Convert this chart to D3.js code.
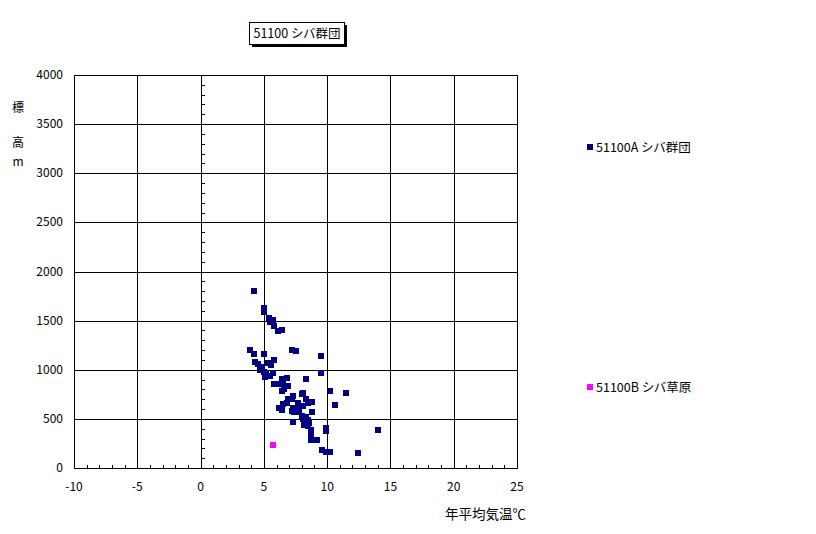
<!DOCTYPE html>
<html>
<head>
<meta charset="utf-8">
<script src="https://cdn.jsdelivr.net/npm/d3@7"></script>
<style>
  body { margin: 0; background: #fff; }
  text { font-family: "Noto Sans CJK JP", "DejaVu Sans", sans-serif; fill: #000; }
</style>
</head>
<body>
<script>
(function(){

  //pseudo-global data
  var titleText = "51100 シバ群団";
  var xTitle = "年平均気温℃";
  var yTitle = ["標", "高", "m"];
  var xTicks = [-10, -5, 0, 5, 10, 15, 20, 25];
  var yTicks = [0, 500, 1000, 1500, 2000, 2500, 3000, 3500, 4000];
  var seriesNames = ["51100A シバ群団", "51100B シバ草原"];
  var seriesColors = ["#000080", "#ff00ff"];

  //series A: annual mean temperature / elevation
  var tempA = [4.2, 5.0, 5.0, 5.4, 5.7, 5.5, 5.8, 6.1, 6.4, 3.9,
               4.2, 5.0, 7.2, 7.5, 9.5, 5.8, 4.3, 4.5, 5.3, 5.6,
               4.8, 4.7, 5.0, 5.2, 5.7, 5.1, 5.5, 9.5, 6.4, 6.8,
               8.3, 5.8, 6.2, 6.5, 6.9, 6.4, 6.6, 10.2, 11.5, 8.0,
               8.1, 7.3, 6.9, 7.2, 8.3, 8.8, 8.5, 6.8, 7.7, 6.5,
               10.6, 6.2, 6.4, 7.3, 7.6, 7.8, 8.1, 7.2, 7.4, 7.8,
               8.8, 8.0, 8.1, 8.3, 8.5, 7.3, 8.2, 8.5, 8.6, 9.9,
               9.9, 14.0, 8.7, 8.7, 8.7, 9.2, 9.6, 9.9, 10.2, 12.4];
  var elevA = [1800, 1630, 1590, 1530, 1510, 1490, 1450, 1390, 1400, 1200,
               1160, 1160, 1200, 1190, 1140, 1100, 1080, 1060, 1070, 1050,
               1030, 1000, 980, 970, 970, 930, 940, 970, 910, 920,
               910, 850, 850, 860, 830, 780, 800, 780, 760, 750,
               760, 730, 700, 700, 700, 670, 660, 660, 660, 650,
               640, 610, 590, 610, 600, 610, 630, 580, 570, 570,
               570, 530, 500, 520, 490, 470, 440, 430, 460, 410,
               380, 390, 390, 340, 290, 280, 180, 160, 160, 150];

  //series B
  var tempB = [5.7];
  var elevB = [230];

  var width = 816, height = 534;
  var plot = {left: 74, top: 75, right: 517, bottom: 468};

  var svg = d3.select("body").append("svg")
    .attr("width", width)
    .attr("height", height);

  var x = d3.scaleLinear().domain([-10, 25]).range([plot.left, plot.right]);
  var y = d3.scaleLinear().domain([0, 4000]).range([plot.bottom, plot.top]);

  //gridlines
  svg.append("g").selectAll("line.vg")
    .data(xTicks)
    .enter().append("line")
    .attr("x1", function(d){ return Math.round(x(d)) + 0.5; })
    .attr("x2", function(d){ return Math.round(x(d)) + 0.5; })
    .attr("y1", plot.top).attr("y2", plot.bottom)
    .attr("stroke", "#000").attr("stroke-width", 1);

  svg.append("g").selectAll("line.hg")
    .data(yTicks)
    .enter().append("line")
    .attr("y1", function(d){ return Math.round(y(d)) + 0.5; })
    .attr("y2", function(d){ return Math.round(y(d)) + 0.5; })
    .attr("x1", plot.left).attr("x2", plot.right)
    .attr("stroke", "#000").attr("stroke-width", 1);

  //plot border
  svg.append("rect")
    .attr("x", plot.left + 0.5).attr("y", plot.top + 0.5)
    .attr("width", plot.right - plot.left).attr("height", plot.bottom - plot.top)
    .attr("fill", "none").attr("stroke", "#000");

  //x axis minor ticks (every 1)
  var xMinor = d3.range(-10, 26, 1);
  svg.append("g").selectAll("line")
    .data(xMinor)
    .enter().append("line")
    .attr("x1", function(d){ return Math.round(x(d)) + 0.5; })
    .attr("x2", function(d){ return Math.round(x(d)) + 0.5; })
    .attr("y1", Math.round(y(0))).attr("y2", Math.round(y(0)) - 3)
    .attr("stroke", "#000");

  //y axis (at x=0) minor ticks (every 100)
  var yMinor = d3.range(0, 4001, 100);
  svg.append("g").selectAll("line")
    .data(yMinor)
    .enter().append("line")
    .attr("y1", function(d){ return Math.round(y(d)) + 0.5; })
    .attr("y2", function(d){ return Math.round(y(d)) + 0.5; })
    .attr("x1", Math.round(x(0))).attr("x2", Math.round(x(0)) + 4)
    .attr("stroke", "#000");

  //tick labels
  svg.append("g").selectAll("text")
    .data(xTicks)
    .enter().append("text")
    .attr("x", function(d){ return x(d); })
    .attr("y", 491)
    .attr("text-anchor", "middle")
    .style("font-size", "12px")
    .text(function(d){ return d; });

  svg.append("g").selectAll("text")
    .data(yTicks)
    .enter().append("text")
    .attr("x", 63)
    .attr("y", function(d){ return y(d) + 4; })
    .attr("text-anchor", "end")
    .style("font-size", "12px")
    .text(function(d){ return d; });

  //axis titles
  svg.append("text")
    .attr("x", 526).attr("y", 519)
    .attr("text-anchor", "end")
    .style("font-size", "13.5px")
    .text(xTitle);

  var yTitlePos = [108, 143, 162];
  svg.append("g").selectAll("text")
    .data(yTitle)
    .enter().append("text")
    .attr("x", 18)
    .attr("y", function(d, i){ return yTitlePos[i] + 4; })
    .attr("text-anchor", "middle")
    .style("font-size", "12px")
    .text(function(d){ return d; });

  //title box with shadow
  var tb = {x: 249, y: 22, w: 95, h: 22};
  svg.append("rect")
    .attr("x", tb.x + 3).attr("y", tb.y + 3)
    .attr("width", tb.w).attr("height", tb.h)
    .attr("fill", "#000");
  svg.append("rect")
    .attr("x", tb.x + 0.5).attr("y", tb.y + 0.5)
    .attr("width", tb.w).attr("height", tb.h)
    .attr("fill", "#fff").attr("stroke", "#000");
  svg.append("text")
    .attr("x", tb.x + tb.w / 2 + 0.5).attr("y", tb.y + 16)
    .attr("text-anchor", "middle")
    .style("font-size", "12.5px")
    .text(titleText);

  //markers
  var size = 6;
  var ptsA = tempA.map(function(t, i){ return [t, elevA[i]]; });
  var ptsB = tempB.map(function(t, i){ return [t, elevB[i]]; });

  svg.append("g").selectAll("rect")
    .data(ptsA)
    .enter().append("rect")
    .attr("x", function(d){ return Math.round(x(d[0]) - size / 2); })
    .attr("y", function(d){ return Math.round(y(d[1]) - size / 2); })
    .attr("width", size).attr("height", size)
    .attr("fill", seriesColors[0]);

  svg.append("g").selectAll("rect")
    .data(ptsB)
    .enter().append("rect")
    .attr("x", function(d){ return Math.round(x(d[0]) - size / 2); })
    .attr("y", function(d){ return Math.round(y(d[1]) - size / 2); })
    .attr("width", size).attr("height", size)
    .attr("fill", seriesColors[1]);

  //legend
  var legendY = [147, 387];
  var legend = svg.append("g").selectAll("g")
    .data(seriesNames)
    .enter().append("g");
  legend.append("rect")
    .attr("x", 587)
    .attr("y", function(d, i){ return legendY[i] - 3; })
    .attr("width", 6).attr("height", 6)
    .attr("fill", function(d, i){ return seriesColors[i]; });
  legend.append("text")
    .attr("x", 596)
    .attr("y", function(d, i){ return legendY[i] + 5; })
    .style("font-size", "12.5px")
    .text(function(d){ return d; });

})();
</script>
</body>
</html>
